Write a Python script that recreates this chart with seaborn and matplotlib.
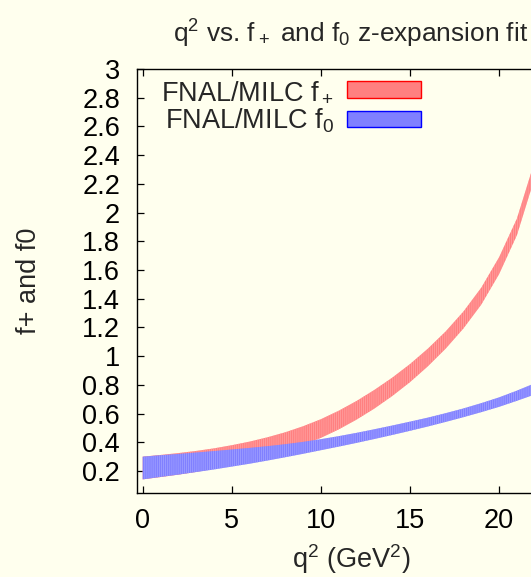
import numpy as np
import pandas as pd
import matplotlib
matplotlib.use("Agg")
import matplotlib.pyplot as plt
from matplotlib.patches import Patch
import seaborn as sns

# z-expansion fit bands (lower / upper edge) versus q^2 in GeV^2
q2 = [0, 1, 2, 3, 4, 5, 6, 7, 8, 9, 10, 11, 12, 13, 14, 15, 16, 17, 18, 19, 20, 21, 22]

fplus_lo = [0.142, 0.158, 0.175, 0.194, 0.216, 0.241, 0.269, 0.301, 0.338, 0.381,
            0.431, 0.490, 0.558, 0.635, 0.722, 0.819, 0.929, 1.052, 1.193, 1.359,
            1.571, 1.842, 2.243]
fplus_hi = [0.300, 0.312, 0.325, 0.340, 0.358, 0.380, 0.405, 0.435, 0.470, 0.512,
            0.561, 0.620, 0.688, 0.765, 0.850, 0.945, 1.052, 1.172, 1.311, 1.477,
            1.689, 1.958, 2.358]

fzero_lo = [0.142, 0.159, 0.175, 0.193, 0.211, 0.231, 0.251, 0.273, 0.296, 0.320,
            0.345, 0.370, 0.396, 0.423, 0.451, 0.480, 0.510, 0.542, 0.575, 0.610,
            0.647, 0.689, 0.733]
fzero_hi = [0.300, 0.310, 0.319, 0.329, 0.339, 0.350, 0.361, 0.373, 0.387, 0.403,
            0.422, 0.443, 0.466, 0.491, 0.517, 0.544, 0.572, 0.603, 0.636, 0.673,
            0.713, 0.760, 0.811]

series_names = ["FNAL/MILC f$_+$", "FNAL/MILC f$_0$"]
fill_colors = ["#ff8080", "#8080ff"]
stripe_colors = ["#ffa4a4", "#a4a4ff"]
edge_colors = ["#ff0000", "#0000ff"]

xticks = [0, 5, 10, 15, 20]
yticks = [0.2, 0.4, 0.6, 0.8, 1.0, 1.2, 1.4, 1.6, 1.8, 2.0, 2.2, 2.4, 2.6, 2.8, 3.0]

BG = "#ffffee"
FS = 19.5

sns.set_style("ticks")
plt.rcParams["font.family"] = ["Liberation Sans", "DejaVu Sans"]
plt.rcParams["mathtext.default"] = "regular"
plt.rcParams["hatch.linewidth"] = 0.5

# long-form table: each q^2 carries its lower and upper edge
rows = []
for name, lo, hi in [(series_names[0], fplus_lo, fplus_hi),
                     (series_names[1], fzero_lo, fzero_hi)]:
    for x, a, b in zip(q2, lo, hi):
        rows.append((name, x, a))
        rows.append((name, x, b))
df = pd.DataFrame(rows, columns=["series", "q2", "f"])

W, H = 531, 577
fig = plt.figure(figsize=(W / 100, H / 100), dpi=100, facecolor=BG)
left_px, right_px, top_px, bottom_px = 136.7, 565.0, 69.0, 493.0
ax = fig.add_axes([left_px / W, 1 - bottom_px / H,
                   (right_px - left_px) / W, (bottom_px - top_px) / H])
ax.set_facecolor(BG)

sns.lineplot(data=df, x="q2", y="f", hue="series", hue_order=series_names,
             palette=dict(zip(series_names, fill_colors)),
             estimator="mean", errorbar=("pi", 100), linewidth=0,
             err_kws=dict(alpha=1, linewidth=0, hatch="||||||||"),
             legend=False, ax=ax)

# thin lighter vertical stripes inside each band
for coll, sc in zip(ax.collections, stripe_colors):
    coll.set_edgecolor(sc)
    coll.set_linewidth(0)

ax.set_xlim(-0.34, 23.7)
ax.set_ylim(0.047, 3.0)
ax.set_xticks(xticks)
ax.set_yticks(yticks)
ax.set_yticklabels([f"{v:g}" for v in yticks])
ax.tick_params(direction="in", length=5, width=0.9, top=True, right=True,
               labelsize=FS, colors="black")
ax.tick_params(axis="y", pad=12)
ax.tick_params(axis="x", pad=11)
for s in ax.spines.values():
    s.set_visible(True)
    s.set_color("black")
    s.set_linewidth(1.0)

ax.set_xlabel("q$^2$ (GeV$^2$)", fontsize=FS, labelpad=6)
ax.set_ylabel("f+ and f0", fontsize=FS, labelpad=29)
ax.set_title("q$^2$ vs. f$_+$ and f$_0$ z-expansion fit", fontsize=18.9, pad=19)

handles = [Patch(facecolor=fc, edgecolor=ec, linewidth=1.0)
           for fc, ec in zip(fill_colors, edge_colors)]
ax.legend(handles, series_names, loc="upper left",
          bbox_to_anchor=(161 / W, 1 - 79 / H), bbox_transform=fig.transFigure,
          frameon=False, markerfirst=False, fontsize=FS, handlelength=2.73,
          handleheight=0.55, handletextpad=0.48, labelspacing=0.05,
          borderpad=0, borderaxespad=0)

fig.savefig("out.png", dpi=100, facecolor=BG)
